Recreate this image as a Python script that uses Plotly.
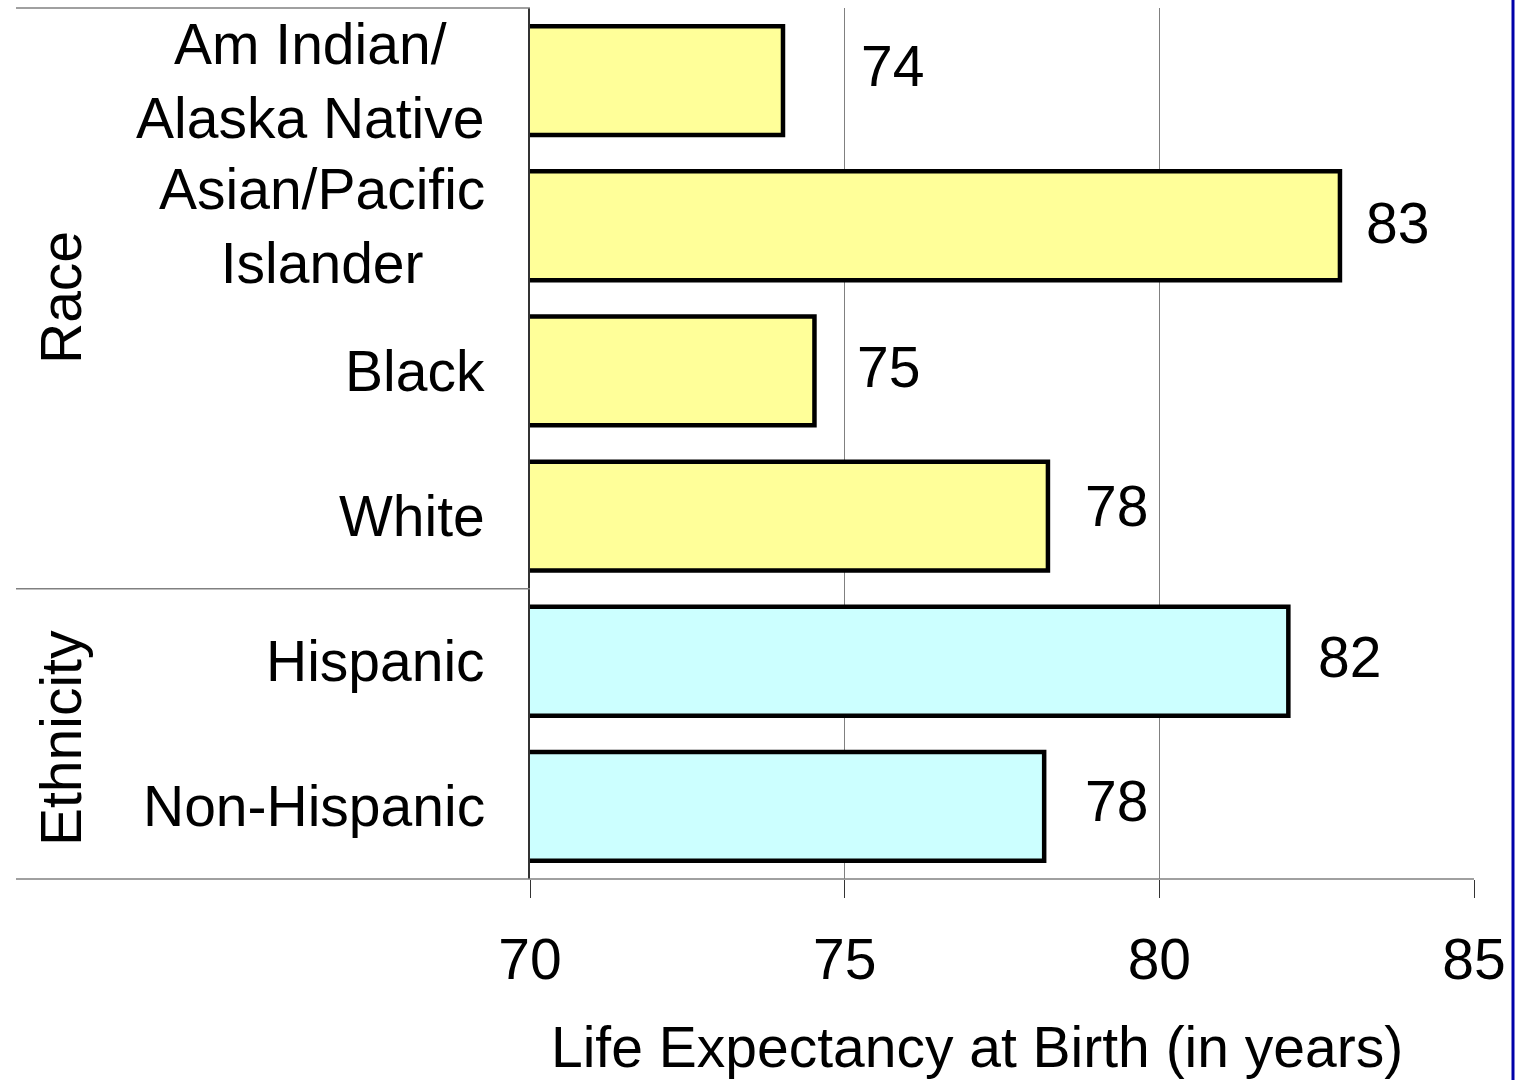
import plotly.graph_objects as go

# data
categories = ["Am Indian/<br>Alaska Native", "Asian/Pacific<br>Islander", "Black", "White",
              "Hispanic", "Non-Hispanic"]
groups = ["Race", "Race", "Race", "Race", "Ethnicity", "Ethnicity"]
life_expectancy = [74.02, 82.87, 74.52, 78.23, 82.05, 78.17]
x_ticks = [70, 75, 80, 85]

group_colors = {"Race": "#FFFF99", "Ethnicity": "#CCFFFF"}
FONT = "Liberation Sans, Arial, sans-serif"
FS = 57

fig = go.Figure()
fig.add_trace(go.Bar(
    x=life_expectancy, y=categories, orientation="h", base=0,
    marker=dict(color=[group_colors[g] for g in groups],
                line=dict(color="black", width=4.5)),
    width=0.75, showlegend=False, hoverinfo="x+y"))

# value labels (offsets tweaked to sit where the original had them)
label_xshift = [76, 24, 41, 35, 28, 39]
label_yshift = [15, 3, 4, 10, 4, 5]
for cat, v, dx, dy in zip(categories, life_expectancy, label_xshift, label_yshift):
    fig.add_annotation(x=v, y=cat, xref="x", yref="y", text=f"{v:.0f}",
                       showarrow=False, xanchor="left", yanchor="middle",
                       xshift=dx, yshift=dy,
                       font=dict(family=FONT, size=FS, color="black"))

# category labels, centred block right-aligned against the axis
for cat in categories:
    fig.add_annotation(x=0, y=cat, xref="paper", yref="y", text=cat,
                       showarrow=False, xanchor="right", yanchor="middle",
                       align="center", xshift=-43,
                       font=dict(family=FONT, size=FS, color="black"))

# group labels
for name, ypos in [("Race", (879 - 298) / 871), ("Ethnicity", (879 - 738) / 871)]:
    fig.add_annotation(x=(61 - 530) / 944, y=ypos, xref="paper", yref="paper",
                       text=name, textangle=-90, showarrow=False,
                       xanchor="center", yanchor="middle",
                       font=dict(family=FONT, size=FS, color="black"))

# x axis title
fig.add_annotation(x=(977 - 530) / 944, y=(879 - 1047) / 871, xref="paper", yref="paper",
                   text="Life Expectancy at Birth (in years)", showarrow=False,
                   xanchor="center", yanchor="middle",
                   font=dict(family=FONT, size=57, color="black"))

# group divider lines on the left
left = (16 - 530) / 944
line_style = dict(color="#808080", width=1.5)
fig.add_shape(type="line", xref="paper", yref="paper", x0=left, x1=0, y0=1, y1=1, line=line_style)
fig.add_shape(type="line", xref="paper", yref="y", x0=left, x1=0, y0=3.5, y1=3.5, line=line_style)
fig.add_shape(type="line", xref="paper", yref="paper", x0=left, x1=1, y0=0, y1=0, line=line_style)

# blue frame edge on the right of the slide
fig.add_shape(type="line", xref="paper", yref="paper",
              x0=(1513 - 530) / 944, x1=(1513 - 530) / 944, y0=-0.3, y1=1.05,
              line=dict(color="#0000AA", width=3))

fig.update_layout(
    width=1515, height=1080,
    margin=dict(l=530, r=41, t=8, b=201),
    paper_bgcolor="white", plot_bgcolor="white",
    bargap=0.25,
    font=dict(family=FONT, size=FS, color="black"),
    xaxis=dict(range=[70, 85], tickvals=x_ticks, ticktext=[str(t) for t in x_ticks],
               showgrid=True, gridcolor="#808080", gridwidth=1,
               zeroline=False, showline=False,
               ticks="outside", ticklen=18, tickcolor="#333333", tickwidth=1,
               ticklabelstandoff=13,
               tickfont=dict(family=FONT, size=FS, color="black")),
    yaxis=dict(autorange="reversed", showticklabels=False, showgrid=False,
               showline=True, linecolor="#333333", linewidth=1.5,
               ticks="", zeroline=False),
)

# drop the default 8px page margin so the figure fills the window exactly
fig.write_html("out.html", config={"displayModeBar": False},
               post_script="document.body.style.margin='0';document.body.style.overflow='hidden';")
